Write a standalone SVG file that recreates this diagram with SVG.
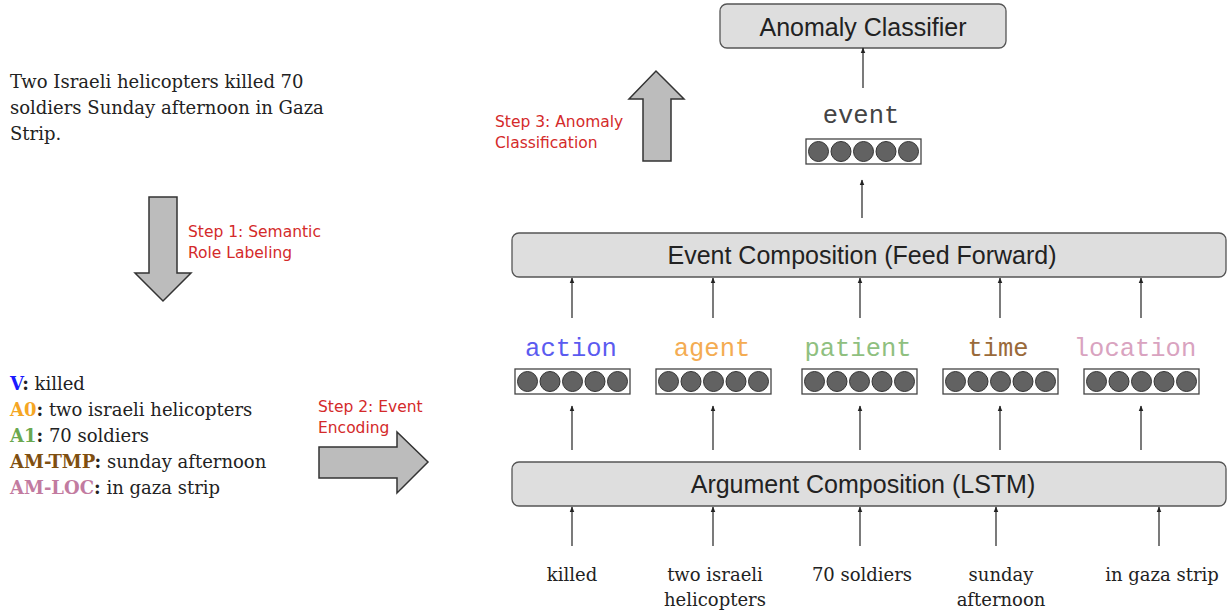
<svg xmlns="http://www.w3.org/2000/svg" width="1231" height="614" viewBox="0 0 1231 614">
  <style>
    .serif { font-family: "DejaVu Serif", "Liberation Serif", serif; font-size: 18px; fill: #222; }
    .step { font-family: "DejaVu Sans", "Liberation Sans", sans-serif; font-size: 15.5px; fill: #d42a2a; }
    .box { fill: #dedede; stroke: #555; stroke-width: 1.3; }
    .boxlabel { font-family: "Liberation Sans", Arial, sans-serif; font-size: 25px; fill: #222; text-anchor: middle; }
    .mono { font-family: "Liberation Mono", "Courier New", monospace; font-size: 25.5px; text-anchor: middle; }
    .vec { fill: #fff; stroke: #444; stroke-width: 1.3; }
    .dot { fill: #626262; stroke: #333; stroke-width: 1; }
    .big { fill: #bcbcbc; stroke: #333; stroke-width: 1.5; stroke-linejoin: miter; }
    .conn line { stroke: #222; stroke-width: 1.2; marker-end: url(#tip); }
  </style>
  <defs>
    <marker id="tip" viewBox="0 0 10 10" refX="9" refY="5" markerWidth="6" markerHeight="6" orient="auto" markerUnits="userSpaceOnUse">
      <path d="M0,1 L10,5 L0,9 Z" fill="#222"/>
    </marker>
    <g id="dots">
      <rect class="vec" x="0" y="0" width="115" height="25"/>
      <circle class="dot" cx="12.5" cy="12.5" r="10"/>
      <circle class="dot" cx="35" cy="12.5" r="10"/>
      <circle class="dot" cx="57.5" cy="12.5" r="10"/>
      <circle class="dot" cx="80" cy="12.5" r="10"/>
      <circle class="dot" cx="102.5" cy="12.5" r="10"/>
    </g>
  </defs>
  <rect width="1231" height="614" fill="#fff"/>

  <!-- input sentence -->
  <g id="sentence">
    <text class="serif" x="10" y="88">Two Israeli helicopters killed 70</text>
    <text class="serif" x="10" y="114">soldiers Sunday afternoon in Gaza</text>
    <text class="serif" x="10" y="140">Strip.</text>
  </g>

  <!-- step 1 -->
  <g id="step1">
    <polygon class="big" points="149,197 177,197 177,273 191,273 163,301 135,273 149,273"/>
    <text class="step" x="188" y="237">Step 1: Semantic</text>
    <text class="step" x="188" y="258">Role Labeling</text>
  </g>

  <!-- semantic roles -->
  <g id="roles" class="serif">
    <text x="10" y="390"><tspan font-weight="bold" fill="#1a1aff">V</tspan><tspan font-weight="bold">:</tspan> killed</text>
    <text x="10" y="416"><tspan font-weight="bold" fill="#f5a623">A0</tspan><tspan font-weight="bold">:</tspan> two israeli helicopters</text>
    <text x="10" y="442"><tspan font-weight="bold" fill="#6aa84f">A1</tspan><tspan font-weight="bold">:</tspan> 70 soldiers</text>
    <text x="10" y="468"><tspan font-weight="bold" fill="#7f4f10">AM-TMP</tspan><tspan font-weight="bold">:</tspan> sunday afternoon</text>
    <text x="10" y="494"><tspan font-weight="bold" fill="#c27ba0">AM-LOC</tspan><tspan font-weight="bold">:</tspan> in gaza strip</text>
  </g>

  <!-- step 2 -->
  <g id="step2">
    <polygon class="big" points="319,447 397,447 397,432 428,462 397,493 397,478 319,478"/>
    <text class="step" x="318" y="412">Step 2: Event</text>
    <text class="step" x="318" y="433">Encoding</text>
  </g>

  <!-- step 3 -->
  <g id="step3">
    <polygon class="big" points="643,161 671,161 671,99 684,99 656,71 629,99 643,99"/>
    <text class="step" x="495" y="127">Step 3: Anomaly</text>
    <text class="step" x="495" y="148">Classification</text>
  </g>

  <!-- network layers -->
  <g id="classifier">
    <rect class="box" x="720" y="4" width="286" height="44" rx="7"/>
    <text class="boxlabel" x="863" y="36" font-size="26">Anomaly Classifier</text>
  </g>

  <g id="event">
    <text class="mono" x="861" y="123" fill="#444" font-size="25">event</text>
    <use href="#dots" x="806" y="139"/>
  </g>

  <g id="event-composition">
    <rect class="box" x="512" y="233" width="714" height="44" rx="7"/>
    <text class="boxlabel" x="862" y="264">Event Composition (Feed Forward)</text>
  </g>

  <g id="action">
    <text class="mono" x="571" y="356" fill="#5b5bf0">action</text>
    <use href="#dots" x="515" y="369"/>
  </g>
  <g id="agent">
    <text class="mono" x="712" y="356" fill="#f4ac52">agent</text>
    <use href="#dots" x="656" y="369"/>
  </g>
  <g id="patient">
    <text class="mono" x="858" y="356" fill="#8fc07f">patient</text>
    <use href="#dots" x="802" y="369"/>
  </g>
  <g id="time">
    <text class="mono" x="998" y="356" fill="#9a6a3a">time</text>
    <use href="#dots" x="943" y="369"/>
  </g>
  <g id="location">
    <text class="mono" x="1135" y="356" fill="#d9a3c0">location</text>
    <use href="#dots" x="1084" y="369"/>
  </g>

  <g id="argument-composition">
    <rect class="box" x="512" y="462" width="714" height="44" rx="7"/>
    <text class="boxlabel" x="863" y="493">Argument Composition (LSTM)</text>
  </g>

  <!-- argument words -->
  <g id="words" class="serif" text-anchor="middle">
    <text x="572" y="581">killed</text>
    <text x="715" y="581">two israeli</text>
    <text x="715" y="606">helicopters</text>
    <text x="862" y="581">70 soldiers</text>
    <text x="1001" y="581">sunday</text>
    <text x="1001" y="606">afternoon</text>
    <text x="1162" y="581">in gaza strip</text>
  </g>

  <!-- connectors -->
  <g id="connectors" class="conn">
    <line x1="863" y1="88" x2="863" y2="48"/>
    <line x1="862" y1="218" x2="862" y2="180"/>
    <line x1="572" y1="318" x2="572" y2="278"/>
    <line x1="713" y1="318" x2="713" y2="278"/>
    <line x1="860" y1="318" x2="860" y2="278"/>
    <line x1="1000" y1="318" x2="1000" y2="278"/>
    <line x1="1141" y1="318" x2="1141" y2="278"/>
    <line x1="572" y1="450" x2="572" y2="406"/>
    <line x1="713" y1="450" x2="713" y2="406"/>
    <line x1="860" y1="450" x2="860" y2="406"/>
    <line x1="1000" y1="450" x2="1000" y2="406"/>
    <line x1="1141" y1="450" x2="1141" y2="406"/>
    <line x1="572" y1="546" x2="572" y2="507"/>
    <line x1="713" y1="546" x2="713" y2="507"/>
    <line x1="860" y1="546" x2="860" y2="507"/>
    <line x1="996" y1="546" x2="996" y2="507"/>
    <line x1="1159" y1="546" x2="1159" y2="507"/>
  </g>
</svg>
